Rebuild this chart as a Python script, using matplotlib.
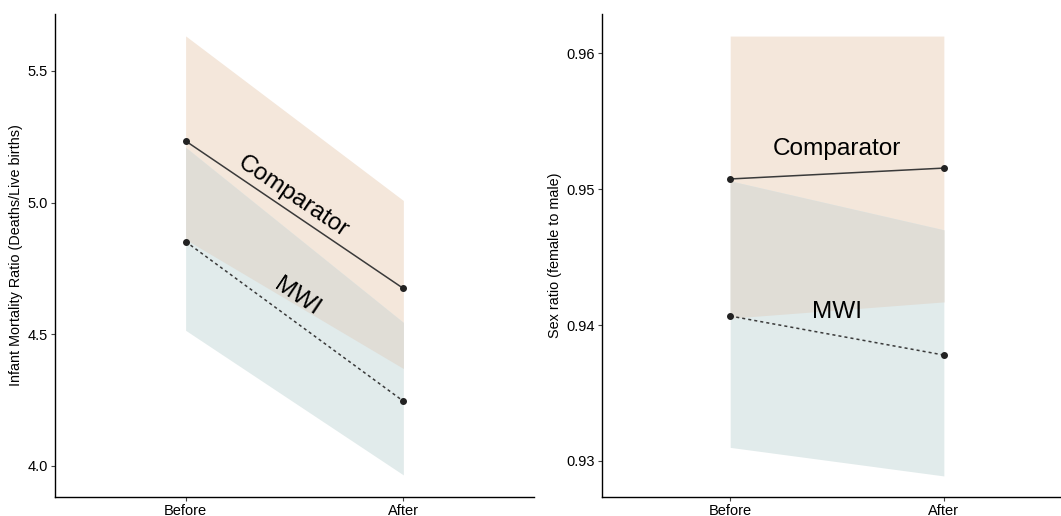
import numpy as np
import matplotlib
matplotlib.use("Agg")
import matplotlib.pyplot as plt
from matplotlib import rcParams

rcParams['font.family'] = ['Liberation Sans', 'DejaVu Sans']

periods = ["Before", "After"]

# infant mortality
imr_comp = [5.234, 4.674]
imr_comp_lo = [4.86, 4.37]
imr_comp_hi = [5.633, 5.008]
imr_mwi = [4.852, 4.246]
imr_mwi_lo = [4.515, 3.966]
imr_mwi_hi = [5.21, 4.545]

# sex ratio
sr_comp = [0.95074, 0.95154]
sr_comp_lo = [0.9405, 0.9417]
sr_comp_hi = [0.96125, 0.96125]
sr_mwi = [0.94066, 0.93779]
sr_mwi_lo = [0.9310, 0.9289]
sr_mwi_hi = [0.9506, 0.9470]

COMP_FILL = "#f4e7db"
MWI_FILL = "#e1ebeb"
BOTH_FILL = "#e0ddd6"


def draw(ax, comp, comp_lo, comp_hi, mwi, mwi_lo, mwi_hi, ylim, yticks, fmt,
         ylabel, comp_txt, mwi_txt, rot):
    x = np.arange(1, len(periods) + 1)
    ax.fill_between(x, comp_lo, comp_hi, color=COMP_FILL, lw=0)
    ax.fill_between(x, mwi_lo, mwi_hi, color=MWI_FILL, lw=0)
    ax.fill_between(x, np.maximum(comp_lo, mwi_lo), np.minimum(comp_hi, mwi_hi),
                    color=BOTH_FILL, lw=0)
    ax.plot(x, comp, "-", color="#3a3a3a", lw=1.1, marker="o", ms=4,
            mfc="#222222", mec="#222222")
    ax.plot(x, mwi, color="#3a3a3a", lw=1.1, ls=(0, (2, 2)), marker="o", ms=4,
            mfc="#222222", mec="#222222")
    ax.text(comp_txt[0], comp_txt[1], "Comparator", fontsize=17.6, rotation=rot,
            ha="center", va="center", rotation_mode="anchor")
    ax.text(mwi_txt[0], mwi_txt[1], "MWI", fontsize=17.6, rotation=rot,
            ha="center", va="center", rotation_mode="anchor")
    ax.set_xlim(0.4, 2.6)
    ax.set_ylim(*ylim)
    ax.set_xticks(x)
    ax.set_xticklabels(periods)
    ax.set_yticks(yticks)
    ax.set_yticklabels([fmt % t for t in yticks])
    ax.set_ylabel(ylabel, fontsize=10.4, labelpad=3)
    for s in ["top", "right"]:
        ax.spines[s].set_visible(False)
    for s in ["left", "bottom"]:
        ax.spines[s].set_linewidth(1.0)
        ax.spines[s].set_color("black")
    ax.tick_params(length=3, width=0.8, color="#444444", labelsize=10.5,
                   labelcolor="black", pad=2)


fig = plt.figure(figsize=(10.61, 5.16), dpi=100)
ax1 = fig.add_axes([0.0518, 0.0368, 0.4515, 0.936])
ax2 = fig.add_axes([0.5674, 0.0368, 0.443, 0.936])

draw(ax1, imr_comp, imr_comp_lo, imr_comp_hi, imr_mwi, imr_mwi_lo, imr_mwi_hi,
     (3.882, 5.716), [4.0, 4.5, 5.0, 5.5], "%.1f",
     "Infant Mortality Ratio (Deaths/Live births)",
     (1.495, 5.022), (1.51, 4.643), -34)
draw(ax2, sr_comp, sr_comp_lo, sr_comp_hi, sr_mwi, sr_mwi_lo, sr_mwi_hi,
     (0.92735, 0.96287), [0.93, 0.94, 0.95, 0.96], "%.2f",
     "Sex ratio (female to male)",
     (1.50, 0.95294), (1.50, 0.94096), 0)

fig.savefig("out.png", dpi=100)
